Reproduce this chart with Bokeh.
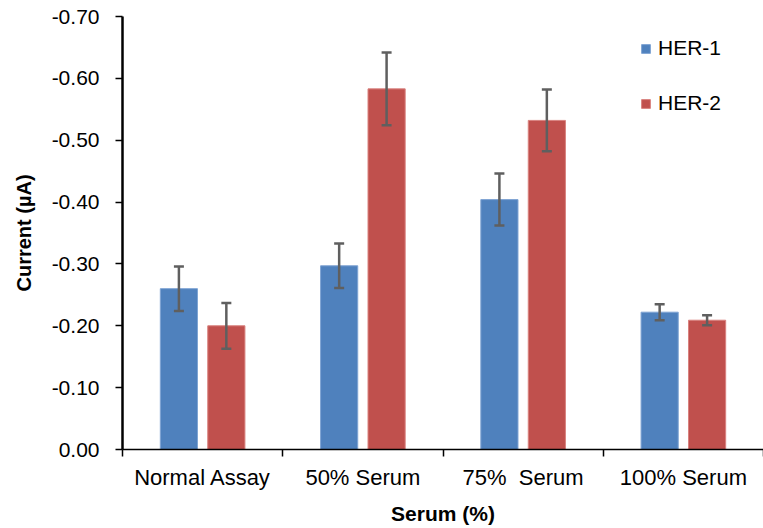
import numpy as np
from bokeh.plotting import figure
from bokeh.models import (ColumnDataSource, Range1d, FixedTicker, NumeralTickFormatter,
                          Whisker, TeeHead, Legend, LegendItem)
from bokeh.embed import file_html
from bokeh.resources import INLINE

categories = ["Normal Assay", "50% Serum", "75%\u00a0 Serum", "100% Serum"]
her1 = [-0.260, -0.297, -0.404, -0.222]
her1_err = [0.036, 0.036, 0.042, 0.013]
her2 = [-0.200, -0.583, -0.532, -0.209]
her2_err = [0.037, 0.059, 0.050, 0.008]
y_ticks = [0.0, -0.1, -0.2, -0.3, -0.4, -0.5, -0.6, -0.7]

FONT = "Liberation Sans"
BLUE = "#4F81BD"
RED = "#C0504D"
ERR = "#5f5f5f"

centers = np.arange(len(categories)) + 0.5
off1, off2, bw = -0.148, 0.148, 0.232

src1 = ColumnDataSource(dict(x=centers + off1, top=her1,
                             upper=np.array(her1) - np.array(her1_err),
                             lower=np.array(her1) + np.array(her1_err)))
src2 = ColumnDataSource(dict(x=centers + off2, top=her2,
                             upper=np.array(her2) - np.array(her2_err),
                             lower=np.array(her2) + np.array(her2_err)))

p = figure(width=763, height=528, output_backend="svg", toolbar_location=None,
           x_range=Range1d(0, len(categories)), y_range=Range1d(0, -0.7),
           min_border_left=122, min_border_right=0, min_border_top=16, min_border_bottom=79)
p.outline_line_color = None
p.grid.grid_line_color = None
p.background_fill_color = "white"
p.border_fill_color = "white"

r1 = p.vbar(x="x", top="top", bottom=0, width=bw, source=src1,
            fill_color=BLUE, line_color="#7fa4d3", line_width=1)
r2 = p.vbar(x="x", top="top", bottom=0, width=bw, source=src2,
            fill_color=RED, line_color="#d9827f", line_width=1)

for s in (src1, src2):
    w = Whisker(base="x", upper="upper", lower="lower", source=s, level="overlay",
                line_color=ERR, line_width=2.5,
                upper_head=TeeHead(size=10, line_color=ERR, line_width=2.5),
                lower_head=TeeHead(size=10, line_color=ERR, line_width=2.5))
    p.add_layout(w)

# x axis
xa = p.xaxis[0]
xa.ticker = FixedTicker(ticks=list(centers), minor_ticks=list(range(len(categories) + 1)))
xa.major_label_overrides = {float(c): lab for c, lab in zip(centers, categories)}
xa.major_tick_line_color = None
xa.major_tick_out = 0
xa.major_tick_in = 0
xa.minor_tick_line_color = "black"
xa.minor_tick_out = 7
xa.minor_tick_in = 0
xa.minor_tick_line_width = 1.5
xa.axis_line_color = "black"
xa.axis_line_width = 1.5
xa.major_label_standoff = 8
xa.major_label_text_font = FONT
xa.major_label_text_font_size = "22px"
xa.major_label_text_color = "black"
xa.axis_label = "Serum (%)"
xa.axis_label_text_font = FONT
xa.axis_label_text_font_size = "21px"
xa.axis_label_text_font_style = "bold"
xa.axis_label_text_color = "black"
xa.axis_label_standoff = 9

# y axis
ya = p.yaxis[0]
ya.ticker = FixedTicker(ticks=y_ticks)
ya.formatter = NumeralTickFormatter(format="0.00")
ya.major_tick_out = 7
ya.major_tick_in = 0
ya.major_tick_line_color = "black"
ya.major_tick_line_width = 1.5
ya.minor_tick_line_color = None
ya.axis_line_color = "black"
ya.axis_line_width = 2.5
ya.major_label_standoff = 16
ya.major_label_text_font = FONT
ya.major_label_text_font_size = "21px"
ya.major_label_text_color = "black"
ya.axis_label = "Current (µA)"
ya.axis_label_text_font = FONT
ya.axis_label_text_font_size = "20px"
ya.axis_label_text_font_style = "bold"
ya.axis_label_text_color = "black"
ya.axis_label_standoff = 14

legend = Legend(items=[LegendItem(label="HER-1", renderers=[r1]),
                       LegendItem(label="HER-2", renderers=[r2])],
                location=(518, 334), glyph_width=11, glyph_height=11,
                label_height=22, spacing=31, padding=0, margin=0,
                border_line_color=None, background_fill_alpha=0,
                label_text_font=FONT, label_text_font_size="21px",
                label_text_color="black", label_standoff=7)
p.add_layout(legend)

open("out.html", "w").write(file_html(p, INLINE))
